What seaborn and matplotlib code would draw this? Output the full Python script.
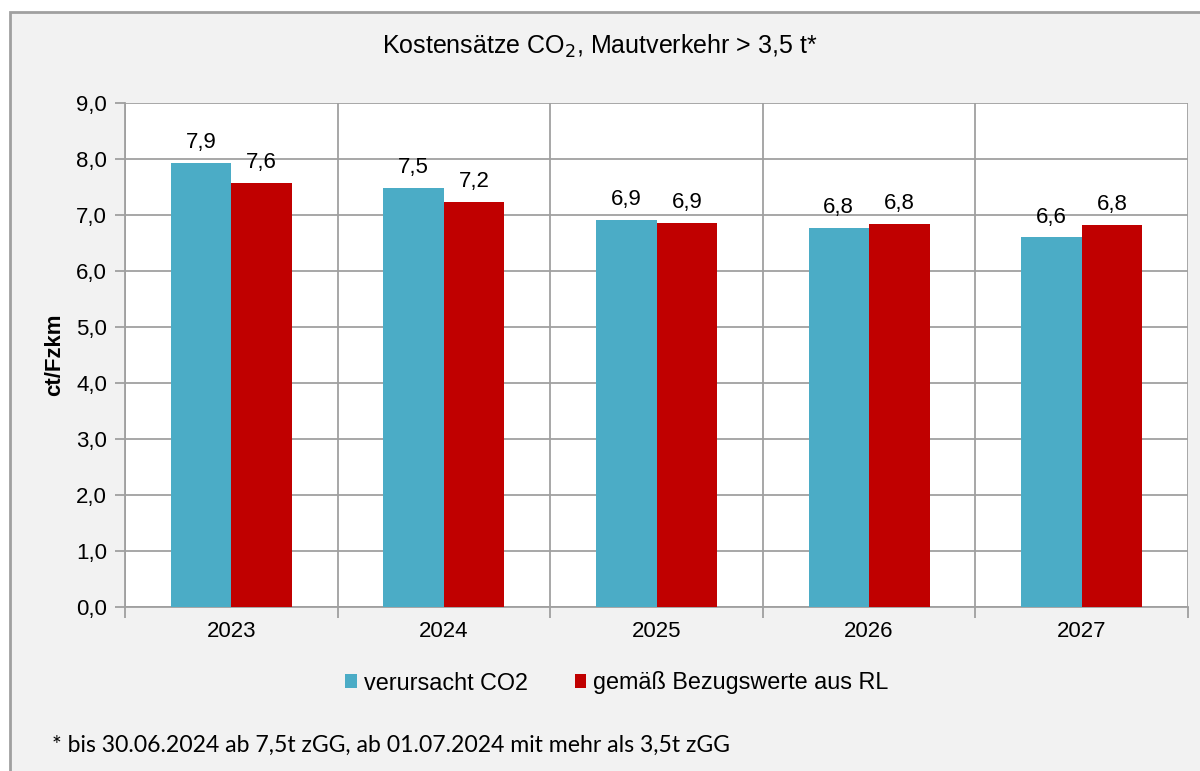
import matplotlib
matplotlib.use("Agg")
import matplotlib.pyplot as plt
import seaborn as sns
import pandas as pd
from matplotlib.patches import Rectangle, Patch
from matplotlib.ticker import FixedLocator

years = ["2023", "2024", "2025", "2026", "2027"]
series_names = ["verursacht CO2", "gemäß Bezugswerte aus RL"]
verursacht = [7.93, 7.49, 6.91, 6.77, 6.60]
bezugswerte = [7.57, 7.23, 6.86, 6.84, 6.83]
colors = ["#4BACC6", "#C00000"]
yticks = [0, 1, 2, 3, 4, 5, 6, 7, 8, 9]

df = pd.DataFrame({
    "Jahr": years * 2,
    "Serie": [series_names[0]] * len(years) + [series_names[1]] * len(years),
    "Wert": verursacht + bezugswerte,
})

sns.set_theme(style="white")
plt.rcParams["font.family"] = ["Liberation Sans", "DejaVu Sans"]
plt.rcParams["text.color"] = "black"
plt.rcParams["xtick.color"] = "black"
plt.rcParams["ytick.color"] = "black"
plt.rcParams["axes.labelcolor"] = "black"

FS = 16

fig = plt.figure(figsize=(12, 7.71), dpi=100)
fig.patch.set_facecolor("white")

# background axes carrying the outer chart frame
bg = fig.add_axes([0, 0, 1, 1], zorder=-5)
bg.set_xlim(0, 1200)
bg.set_ylim(771, 0)
bg.axis("off")
bg.add_patch(Rectangle((10, 12), 1300, 900, facecolor="#F2F2F2",
                       edgecolor="#A0A0A0", linewidth=2))

ax = fig.add_axes([125 / 1200, (771 - 607) / 771, (1188 - 125) / 1200, (607 - 103) / 771], zorder=1)
ax.set_facecolor("white")

sns.barplot(data=df, x="Jahr", y="Wert", hue="Serie", palette=colors,
            width=0.57, gap=0, saturation=1, ax=ax, legend=False,
            edgecolor="none", linewidth=0, zorder=3)

for cont, vals in zip(ax.containers, [verursacht, bezugswerte]):
    ax.bar_label(cont, labels=[f"{v:.1f}".replace(".", ",") for v in vals],
                 padding=7, fontsize=FS, color="black")

ax.set_ylim(0, 9)
ax.set_xlim(-0.5, len(years) - 0.5)
ax.set_yticks(yticks)
ax.set_yticklabels([f"{v:.1f}".replace(".", ",") for v in yticks], fontsize=FS)
ax.set_xticks(range(len(years)))
ax.set_xticklabels(years, fontsize=FS)
ax.xaxis.set_minor_locator(FixedLocator([i - 0.5 for i in range(len(years) + 1)]))

ax.grid(axis="y", which="major", color="#A0A0A0", linewidth=1.3, zorder=1)
ax.grid(axis="x", which="minor", color="#A0A0A0", linewidth=1.3, zorder=1)
ax.grid(axis="x", which="major", visible=False)
ax.set_axisbelow(True)

ax.tick_params(axis="x", which="major", length=0, pad=10)
ax.tick_params(axis="x", which="minor", length=8, width=1.3, color="#A0A0A0", direction="out", bottom=True)
ax.tick_params(axis="y", which="major", length=7, width=1.3, color="#A0A0A0",
               labelcolor="black", direction="out", left=True, pad=6)

for side in ["top", "right"]:
    ax.spines[side].set_visible(False)
for side in ["left", "bottom"]:
    ax.spines[side].set_color("#A0A0A0")
    ax.spines[side].set_linewidth(1.3)

ax.set_xlabel("")
ax.set_ylabel("ct/Fzkm", fontsize=FS, fontweight="bold")
ax.yaxis.set_label_coords(-0.056, 0.5)

fig.text(600 / 1200, (771 - 46) / 771, "Kostensätze CO$_2$, Mautverkehr > 3,5 t*",
         ha="center", va="center", fontsize=18)

handles = [Patch(facecolor=c, edgecolor="none") for c in colors]
fig.legend(handles, series_names, loc="center", bbox_to_anchor=(617 / 1200, (771 - 683) / 771),
           ncol=2, frameon=False, fontsize=16.8, handlelength=0.5, handleheight=0.55,
           handletextpad=0.3, columnspacing=2.0)

fig.text(52 / 1200, (771 - 745) / 771,
         "* bis 30.06.2024 ab 7,5t zGG, ab 01.07.2024 mit mehr als 3,5t zGG",
         ha="left", va="center", fontsize=16.6, family=["Lato", "DejaVu Sans"])

fig.savefig("out.png", dpi=100)
